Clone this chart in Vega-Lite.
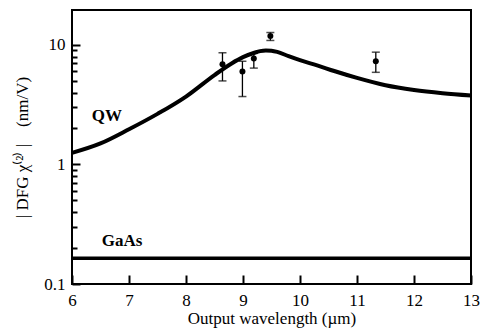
{
  "$schema": "https://vega.github.io/schema/vega-lite/v6.json",
  "width": 399,
  "height": 274,
  "autosize": {"type": "none"},
  "padding": {"left": 72, "top": 10, "right": 14, "bottom": 51},
  "background": "white",
  "config": {
    "view": {"stroke": "black", "strokeWidth": 2},
    "font": "Liberation Serif",
    "axis": {
      "domain": false, "ticks": true, "tickColor": "black", "tickWidth": 2, "tickOpacity": 1, "zindex": 1,
      "labelColor": "black", "titleColor": "black", "labelFont": "Liberation Serif",
      "titleFont": "Liberation Serif", "titleFontWeight": "normal", "grid": false
    }
  },
  "resolve": {"axis": {"y": "independent"}},
  "datasets": {
    "qw": [
      {"x": 6.0, "y": 1.25}, {"x": 6.5, "y": 1.5}, {"x": 7.0, "y": 1.97}, {"x": 7.5, "y": 2.65},
      {"x": 8.0, "y": 3.7}, {"x": 8.5, "y": 5.6}, {"x": 8.8, "y": 7.0}, {"x": 9.0, "y": 7.9},
      {"x": 9.2, "y": 8.6}, {"x": 9.3, "y": 8.88}, {"x": 9.4, "y": 9.0}, {"x": 9.5, "y": 8.95},
      {"x": 9.6, "y": 8.75}, {"x": 9.8, "y": 8.05}, {"x": 10.0, "y": 7.45}, {"x": 10.3, "y": 6.75},
      {"x": 10.6, "y": 6.05}, {"x": 11.0, "y": 5.3}, {"x": 11.5, "y": 4.6}, {"x": 12.0, "y": 4.2},
      {"x": 12.5, "y": 3.95}, {"x": 13.0, "y": 3.78}
    ],
    "gaas": [{"x": 6, "y": 0.164}, {"x": 13, "y": 0.164}],
    "pts": [
      {"x": 8.64, "y": 6.9, "lo": 5.0, "hi": 8.6},
      {"x": 8.99, "y": 6.0, "lo": 3.7, "hi": 7.3},
      {"x": 9.19, "y": 7.7, "lo": 6.4, "hi": 8.5},
      {"x": 9.48, "y": 11.9, "lo": 10.9, "hi": 12.7},
      {"x": 11.33, "y": 7.3, "lo": 5.9, "hi": 8.7}
    ],
    "labels": [
      {"x": 6.61, "y": 2.56, "text": "QW"},
      {"x": 6.88, "y": 0.23, "text": "GaAs"}
    ]
  },
  "layer": [
    {
      "data": {"name": "qw"},
      "mark": {"type": "line", "color": "black", "strokeWidth": 4, "interpolate": "monotone"},
      "encoding": {
        "x": {
          "field": "x", "type": "quantitative",
          "scale": {"domain": [6, 13], "nice": false, "zero": false},
          "axis": {
            "values": [6, 7, 8, 9, 10, 11, 12, 13], "format": "d", "tickSize": -9, "labelPadding": 17,
            "labelFontSize": 17, "title": "Output wavelength (µm)", "titleFontSize": 17,
            "titlePadding": 2, "labelFlush": false
          }
        },
        "y": {
          "field": "y", "type": "quantitative",
          "scale": {"type": "log", "domain": [0.1, 19.6], "nice": false},
          "axis": {
            "values": [0.1, 1, 10], "format": "~g", "tickSize": -8,
            "labelPadding": 15, "labelFontSize": 17, "labelFlush": false,
            "title": "| DFG χ⁽²⁾ |\u00a0\u00a0\u00a0\u00a0(nm/V)", "titleFontSize": 17, "titlePadding": 12
          }
        }
      }
    },
    {
      "data": {"name": "gaas"},
      "mark": {"type": "line", "color": "black", "strokeWidth": 3.5},
      "encoding": {
        "x": {"field": "x", "type": "quantitative"},
        "y": {
          "field": "y", "type": "quantitative",
          "axis": {
            "values": [0.2, 0.3, 0.4, 0.5, 0.6, 0.7, 0.8, 0.9, 2, 3, 4, 5, 6, 7, 8, 9],
            "labels": false, "title": null, "tickSize": -5, "orient": "left"
          }
        }
      }
    },
    {
      "data": {"name": "pts"},
      "mark": {"type": "rule", "color": "black", "strokeWidth": 1.3},
      "encoding": {
        "x": {"field": "x", "type": "quantitative"},
        "y": {"field": "lo", "type": "quantitative", "axis": null},
        "y2": {"field": "hi"}
      }
    },
    {
      "data": {"name": "pts"},
      "mark": {"type": "tick", "color": "black", "orient": "horizontal", "size": 8, "thickness": 1.5},
      "encoding": {
        "x": {"field": "x", "type": "quantitative"},
        "y": {"field": "hi", "type": "quantitative", "axis": null}
      }
    },
    {
      "data": {"name": "pts"},
      "mark": {"type": "tick", "color": "black", "orient": "horizontal", "size": 8, "thickness": 1.5},
      "encoding": {
        "x": {"field": "x", "type": "quantitative"},
        "y": {"field": "lo", "type": "quantitative", "axis": null}
      }
    },
    {
      "data": {"name": "pts"},
      "mark": {"type": "point", "filled": true, "color": "black", "opacity": 1, "size": 36},
      "encoding": {
        "x": {"field": "x", "type": "quantitative"},
        "y": {"field": "y", "type": "quantitative", "axis": null}
      }
    },
    {
      "data": {"name": "labels"},
      "mark": {"type": "text", "font": "Liberation Serif", "fontWeight": "bold", "fontSize": 17, "color": "black", "align": "center", "baseline": "middle"},
      "encoding": {
        "x": {"field": "x", "type": "quantitative"},
        "y": {"field": "y", "type": "quantitative", "axis": null},
        "text": {"field": "text"}
      }
    }
  ]
}
